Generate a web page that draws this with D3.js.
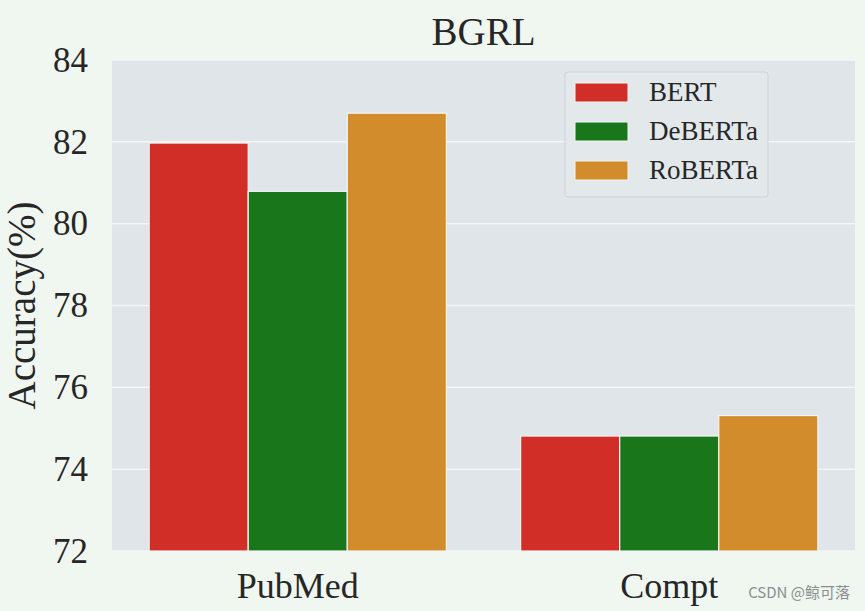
<!DOCTYPE html>
<html>
<head>
<meta charset="utf-8">
<script src="https://cdn.jsdelivr.net/npm/d3@7"></script>
<style>
  html, body { margin: 0; padding: 0; background: #f0f6f0; }
  svg { display: block; }
</style>
</head>
<body>
<svg id="chart" width="865" height="611"></svg>
<script>
var datasets = ["PubMed", "Compt"]
var models = ["BERT", "DeBERTa", "RoBERTa"]
var bertAcc = [81.97, 74.81]
var debertaAcc = [80.79, 74.81]
var robertaAcc = [82.70, 75.31]
var yTicks = [72, 74, 76, 78, 80, 82, 84]
var colors = ["#d22e28", "#1a761a", "#d28c2b"]

var seriesValues = [bertAcc, debertaAcc, robertaAcc]

var margin = { left: 112, right: 10, top: 60, bottom: 60 }
var width = 865, height = 611
var svg = d3.select("#chart")
var serif = "'Liberation Serif', 'Times New Roman', serif"

var x = d3.scaleBand().domain(datasets).range([margin.left, width - margin.right]).paddingInner(0).paddingOuter(0)
var inner = d3.scaleBand().domain(models).range([0, x.bandwidth() * 0.8])
var y = d3.scaleLinear().domain([72, 84]).range([height - margin.bottom, margin.top])

svg.append("rect")
    .attr("x", margin.left)
    .attr("y", margin.top)
    .attr("width", width - margin.left - margin.right)
    .attr("height", y(72) - y(84))
    .attr("fill", "#dfe5e8")

svg.append("g").selectAll("line").data(yTicks).join("line")
    .attr("x1", margin.left)
    .attr("x2", width - margin.right)
    .attr("y1", function (d) { return y(d) })
    .attr("y2", function (d) { return y(d) })
    .attr("stroke", "#f4f6f6")
    .attr("stroke-width", 1.5)

var rows = []
datasets.forEach(function (ds, i) {
    models.forEach(function (m, j) {
        rows.push({ dataset: ds, model: m, value: seriesValues[j][i], color: colors[j] })
    })
})

svg.append("g").selectAll("rect").data(rows).join("rect")
    .attr("x", function (d) { return x(d.dataset) + x.bandwidth() * 0.1 + inner(d.model) })
    .attr("y", function (d) { return y(d.value) })
    .attr("width", inner.bandwidth())
    .attr("height", function (d) { return y(72) - y(d.value) })
    .attr("fill", function (d) { return d.color })
    .attr("stroke", "#f4f4f4")
    .attr("stroke-width", 1.2)

var yAxis = svg.append("g")
    .attr("transform", "translate(" + margin.left + ",0)")
    .call(d3.axisLeft(y).tickValues(yTicks).tickSize(0).tickPadding(24).tickFormat(d3.format("d")))
yAxis.select(".domain").remove()
yAxis.selectAll("text")
    .attr("font-family", serif)
    .attr("font-size", 35)
    .attr("fill", "#262626")

var xAxis = svg.append("g")
    .attr("transform", "translate(0," + y(72) + ")")
    .call(d3.axisBottom(x).tickSize(0).tickPadding(21))
xAxis.select(".domain").remove()
xAxis.selectAll("text")
    .attr("font-family", serif)
    .attr("font-size", 36)
    .attr("fill", "#262626")

svg.append("text")
    .attr("x", (margin.left + width - margin.right) / 2)
    .attr("y", 45)
    .attr("text-anchor", "middle")
    .attr("font-family", serif)
    .attr("font-size", 39)
    .attr("fill", "#262626")
    .text("BGRL")

svg.append("text")
    .attr("transform", "translate(35," + ((y(72) + y(84)) / 2) + ") rotate(-90)")
    .attr("text-anchor", "middle")
    .attr("font-family", serif)
    .attr("font-size", 39)
    .attr("fill", "#262626")
    .text("Accuracy(%)")

var legend = svg.append("g").attr("transform", "translate(565,72)")
legend.append("rect")
    .attr("width", 203)
    .attr("height", 125)
    .attr("rx", 3)
    .attr("fill", "#e3e8ea")
    .attr("stroke", "#cfd3d5")
    .attr("stroke-width", 1)

models.forEach(function (m, j) {
    var row = legend.append("g").attr("transform", "translate(0," + (j * 39) + ")")
    row.append("rect")
        .attr("x", 10)
        .attr("y", 11)
        .attr("width", 53)
        .attr("height", 19)
        .attr("fill", colors[j])
        .attr("stroke", "#f4f4f4")
        .attr("stroke-width", 1)
    row.append("text")
        .attr("x", 84)
        .attr("y", 29)
        .attr("font-family", serif)
        .attr("font-size", 27)
        .attr("fill", "#262626")
        .text(m)
})

svg.append("text")
    .attr("x", 850)
    .attr("y", 598)
    .attr("text-anchor", "end")
    .attr("font-family", "'Noto Sans CJK SC', 'Noto Sans', sans-serif")
    .attr("font-size", 15)
    .attr("fill", "#8a8f8f")
    .text("CSDN @鲸可落")
</script>
</body>
</html>
